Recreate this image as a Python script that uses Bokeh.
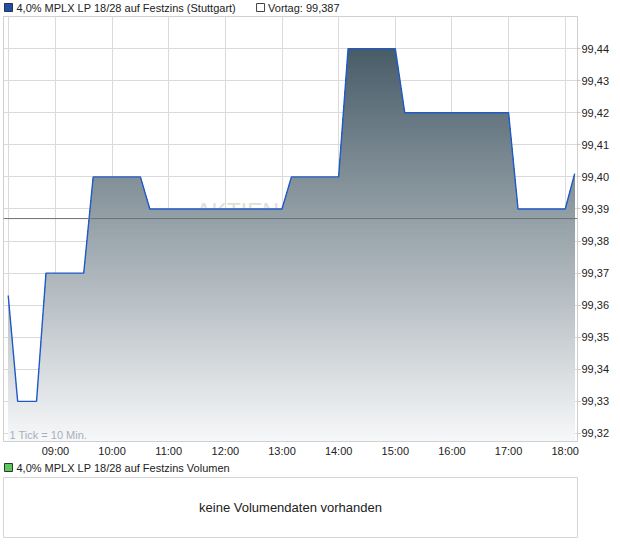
import numpy as np
from bokeh.plotting import figure
from bokeh.models import (Range1d, FixedTicker, LinearAxis, Grid, Span,
                          CustomJSTickFormatter, Label)
from bokeh.layouts import column
from bokeh.embed import file_html
from bokeh.resources import INLINE
from bokeh.core.properties import value

# ---------------- data ----------------
title = "4,0% MPLX LP 18/28 auf Festzins (Stuttgart)"
prev_text = "Vortag: 99,387"
vol_title = "4,0% MPLX LP 18/28 auf Festzins Volumen"
vol_msg = "keine Volumendaten vorhanden"
tick_note = "1 Tick = 10 Min."
watermark = "AKTIENCHECK"

times = ["08:10", "08:20", "08:30", "08:40", "08:50", "09:00", "09:10", "09:20",
         "09:30", "09:40", "09:50", "10:00", "10:10", "10:20", "10:30", "10:40",
         "10:50", "11:00", "11:10", "11:20", "11:30", "11:40", "11:50", "12:00",
         "12:10", "12:20", "12:30", "12:40", "12:50", "13:00", "13:10", "13:20",
         "13:30", "13:40", "13:50", "14:00", "14:10", "14:20", "14:30", "14:40",
         "14:50", "15:00", "15:10", "15:20", "15:30", "15:40", "15:50", "16:00",
         "16:10", "16:20", "16:30", "16:40", "16:50", "17:00", "17:10", "17:20",
         "17:30", "17:40", "17:50", "18:00", "18:10"]
prices = [99.363, 99.33, 99.33, 99.33, 99.37, 99.37, 99.37, 99.37,
          99.37, 99.40, 99.40, 99.40, 99.40, 99.40, 99.40, 99.39,
          99.39, 99.39, 99.39, 99.39, 99.39, 99.39, 99.39, 99.39,
          99.39, 99.39, 99.39, 99.39, 99.39, 99.39, 99.40, 99.40,
          99.40, 99.40, 99.40, 99.40, 99.44, 99.44, 99.44, 99.44,
          99.44, 99.44, 99.42, 99.42, 99.42, 99.42, 99.42, 99.42,
          99.42, 99.42, 99.42, 99.42, 99.42, 99.42, 99.39, 99.39,
          99.39, 99.39, 99.39, 99.39, 99.401]
prev_close = 99.387
y_ticks = [99.32, 99.33, 99.34, 99.35, 99.36, 99.37, 99.38, 99.39,
           99.40, 99.41, 99.42, 99.43, 99.44]
x_tick_labels = ["09:00", "10:00", "11:00", "12:00", "13:00", "14:00",
                 "15:00", "16:00", "17:00", "18:00"]
x_start, x_end = "08:05", "18:13"
y_start, y_end = 99.3175, 99.45


def to_min(t):
    h, m = t.split(":")
    return int(h) * 60 + int(m)


xs = np.array([to_min(t) for t in times], dtype=float)
ys = np.array(prices, dtype=float)
x_ticks = [to_min(t) for t in x_tick_labels]

FONT = "Liberation Sans"
GRID = "#dadada"
BL, BR = 2, 43          # left / right border of the plot frames
FW = 620 - BL - BR      # frame width

# ---------------- header ----------------
hdr = figure(width=620, height=15, output_backend="svg", toolbar_location=None,
             x_range=Range1d(BL, BL + FW), y_range=Range1d(15, 0),
             x_axis_location=None, y_axis_location=None,
             min_border_left=BL, min_border_right=BR, min_border_top=0,
             min_border_bottom=0, outline_line_color=None)
hdr.grid.visible = False
hdr.rect(x=[7], y=[7], width=8, height=8, fill_color="#1f4fb0", line_color="#333333")
hdr.text(x=[15], y=[7.5], text=[title], text_baseline="middle",
         text_font=value(FONT), text_font_size="11px", text_color="#222222")
hdr.rect(x=[259.5], y=[7], width=8, height=8, fill_color="white", line_color="#444444")
hdr.text(x=[267], y=[7.5], text=[prev_text], text_baseline="middle",
         text_font=value(FONT), text_font_size="11px", text_color="#222222")

# ---------------- main chart ----------------
p = figure(width=620, height=447, output_backend="svg", toolbar_location=None,
           x_range=Range1d(to_min(x_start), to_min(x_end)),
           y_range=Range1d(y_start, y_end),
           x_axis_location=None, y_axis_location=None,
           min_border_left=BL, min_border_right=BR, min_border_top=1,
           min_border_bottom=21, outline_line_color="#cfcfcf")
p.grid.visible = False

p.add_layout(Grid(dimension=0, ticker=FixedTicker(ticks=[xs[0]] + x_ticks),
                  grid_line_color=GRID, grid_line_width=1))
p.add_layout(Grid(dimension=1, ticker=FixedTicker(ticks=y_ticks),
                  grid_line_color=GRID, grid_line_width=1))

xaxis = LinearAxis(ticker=FixedTicker(ticks=x_ticks),
                   formatter=CustomJSTickFormatter(code="""
                       const h = Math.floor(tick / 60), m = Math.round(tick % 60);
                       return String(h).padStart(2, '0') + ':' + String(m).padStart(2, '0');"""),
                   axis_line_color="#d0d0d0", major_tick_out=0, major_tick_in=0,
                   minor_tick_out=0, minor_tick_in=0,
                   major_label_text_font=FONT, major_label_text_font_size="11px",
                   major_label_text_color="#222222", major_label_standoff=3)
p.add_layout(xaxis, "below")

yaxis = LinearAxis(ticker=FixedTicker(ticks=y_ticks),
                   formatter=CustomJSTickFormatter(code="return tick.toFixed(2).replace('.', ',');"),
                   axis_line_color=None, major_tick_out=3, major_tick_in=0,
                   major_tick_line_color="#c8c8c8",
                   minor_tick_out=0, minor_tick_in=0,
                   major_label_text_font=FONT, major_label_text_font_size="11px",
                   major_label_text_color="#222222", major_label_standoff=1)
p.add_layout(yaxis, "right")

# faint watermark behind the area
p.text(x=[to_min("11:29")], y=[99.3889], text=[watermark],
       text_font=value(FONT), text_font_size="23px", text_color="#e2ded8",
       text_baseline="alphabetic")

# gradient fill under the line, drawn as stacked bands
top_rgb = np.array([72, 92, 104], dtype=float)
bot_rgb = np.array([247, 248, 249], dtype=float)
N = 110
edges = np.linspace(y_start, ys.max(), N + 1)


def profile_capped(x, y, cap):
    px, py = [x[0]], [min(y[0], cap)]
    for k in range(len(x) - 1):
        x0, y0, x1, y1 = x[k], y[k], x[k + 1], y[k + 1]
        if (y0 - cap) * (y1 - cap) < 0:
            t = (cap - y0) / (y1 - y0)
            px.append(x0 + t * (x1 - x0))
            py.append(cap)
        px.append(x1)
        py.append(min(y1, cap))
    return px, py


for i in range(N - 1, -1, -1):
    hi = edges[i + 1]
    mid = 0.5 * (edges[i] + edges[i + 1])
    t = (mid - y_start) / (ys.max() - y_start)
    rgb = bot_rgb + (top_rgb - bot_rgb) * t
    col = "#%02x%02x%02x" % tuple(int(round(c)) for c in rgb)
    bx, by = profile_capped(xs, ys, hi)
    p.varea(x=bx, y1=[y_start] * len(bx), y2=by, fill_color=col)

p.line(xs, ys, line_color="#1f5bc6", line_width=1.4)

p.add_layout(Span(location=prev_close, dimension="width",
                  line_color="#707070", line_width=1))

p.add_layout(Label(x=to_min(x_start), y=y_start, x_offset=6, y_offset=1,
                   text=tick_note, text_font=FONT, text_font_size="11px",
                   text_color="#a6b0bd", text_baseline="bottom"))

# ---------------- volume header ----------------
vhdr = figure(width=620, height=14, output_backend="svg", toolbar_location=None,
              x_range=Range1d(BL, BL + FW), y_range=Range1d(14, 0),
              x_axis_location=None, y_axis_location=None,
              min_border_left=BL, min_border_right=BR, min_border_top=0,
              min_border_bottom=0, outline_line_color=None)
vhdr.grid.visible = False
vhdr.rect(x=[7], y=[5], width=8, height=8, fill_color="#5cc85c", line_color="#333333")
vhdr.text(x=[15], y=[5.5], text=[vol_title], text_baseline="middle",
          text_font=value(FONT), text_font_size="11px", text_color="#222222")

# ---------------- volume box ----------------
vbox = figure(width=620, height=70, output_backend="svg", toolbar_location=None,
              x_range=Range1d(0, 1), y_range=Range1d(0, 1),
              x_axis_location=None, y_axis_location=None,
              min_border_left=3, min_border_right=42, min_border_top=1,
              min_border_bottom=9, outline_line_color="#d6d6d6")
vbox.grid.visible = False
vbox.text(x=[0.5], y=[0.5], text=[vol_msg], text_align="center",
          text_baseline="middle", text_font=value(FONT),
          text_font_size="13px", text_color="#222222")

layout = column(hdr, p, vhdr, vbox, spacing=0)

open("out.html", "w").write(file_html(layout, INLINE))
